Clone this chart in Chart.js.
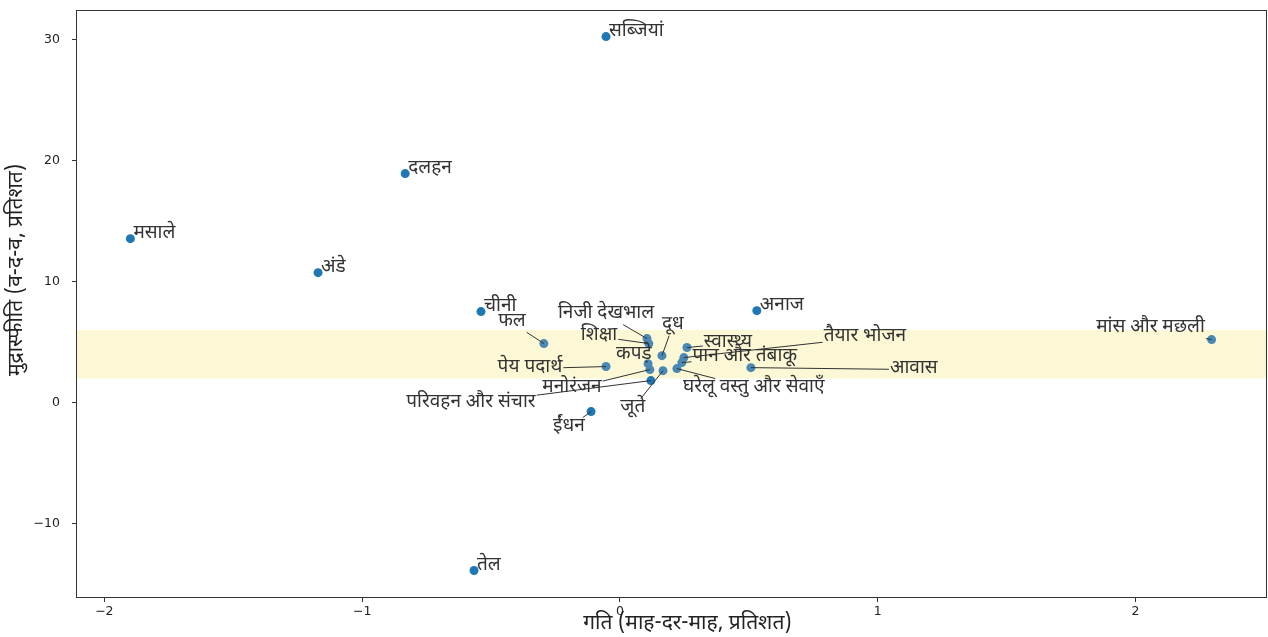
<!DOCTYPE html>
<html>
<head>
<meta charset="utf-8">
<script src="https://cdn.jsdelivr.net/npm/chart.js@4.4.1/dist/chart.umd.min.js"></script>
<style>
  body { margin: 0; background: #fff; }
  #wrap { width: 1268px; height: 637px; }
</style>
</head>
<body>
<div id="wrap"><canvas id="myChart" width="1268" height="637"></canvas></div>
<script>
// categories and values: momentum (m-o-m %) vs inflation (y-o-y %)
const names = ['सब्जियां', 'दलहन', 'मसाले', 'अंडे', 'चीनी', 'अनाज', 'मांस और मछली', 'फल', 'तेल',
  'ईंधन', 'पेय पदार्थ', 'निजी देखभाल', 'शिक्षा', 'कपड़े', 'मनोरंजन', 'परिवहन और संचार', 'जूते',
  'दूध', 'स्वास्थ्य', 'तैयार भोजन', 'पान और तंबाकू', 'घरेलू वस्तु और सेवाएँ', 'आवास'];
const momentum = [-0.054, -0.833, -1.899, -1.171, -0.539, 0.531, 2.295, -0.295, -0.566,
  -0.112, -0.054, 0.105, 0.112, 0.109, 0.116, 0.120, 0.167,
  0.163, 0.260, 0.248, 0.240, 0.221, 0.508];
const inflation = [30.25, 18.93, 13.55, 10.74, 7.52, 7.60, 5.21, 4.88, -13.88,
  -0.74, 2.98, 5.29, 4.88, 3.22, 2.73, 1.82, 2.64,
  3.88, 4.55, 3.72, 3.31, 2.81, 2.89];

// where moved labels sit (data units); null = label right at the point
const labelX = [null, null, null, null, null, null, 2.058, -0.419, null,
  -0.198, -0.349, -0.054, -0.081, 0.054, -0.186, -0.578, 0.050,
  0.205, 0.419, 0.950, 0.484, 0.519, 1.140];
const labelY = [null, null, null, null, null, null, 6.12, 6.61, null,
  -2.07, 2.81, 7.27, 5.45, 3.88, 1.16, -0.08, -0.50,
  6.36, 4.88, 5.37, 3.72, 1.16, 2.73];

// target band 2-6 %
const bandLow = 2;
const bandHigh = 6;

const xTicks = [-2, -1, 0, 1, 2];
const yTicks = [-10, 0, 10, 20, 30];

const devFont = '"Noto Sans Devanagari", "Noto Sans", "Lohit Devanagari", sans-serif';

const points = names.map((n, i) => ({ x: momentum[i], y: inflation[i] }));

const extras = {
  id: 'extras',
  beforeDatasetsDraw(chart) {
    const { ctx, chartArea, scales: { y } } = chart;
    ctx.save();
    ctx.fillStyle = '#fcf8d6';
    const top = y.getPixelForValue(bandHigh);
    const bot = y.getPixelForValue(bandLow);
    ctx.fillRect(chartArea.left, top, chartArea.right - chartArea.left, bot - top);
    ctx.restore();
  },
  afterDatasetsDraw(chart) {
    const { ctx, chartArea, scales: { x, y } } = chart;
    ctx.save();
    ctx.font = '19px ' + devFont;
    ctx.fillStyle = '#333';
    ctx.strokeStyle = '#333';
    ctx.lineWidth = 1;
    names.forEach((n, i) => {
      const px = x.getPixelForValue(momentum[i]);
      const py = y.getPixelForValue(inflation[i]);
      if (labelX[i] === null) {
        ctx.textAlign = 'left';
        ctx.textBaseline = 'alphabetic';
        ctx.fillText(n, px + 3, py - 1);
        return;
      }
      const cx = x.getPixelForValue(labelX[i]);
      const cy = y.getPixelForValue(labelY[i]);
      const w = ctx.measureText(n).width;
      const hw = w / 2 + 1, hh = 10;
      const dx = px - cx, dy = py - cy;
      const t = Math.min(dx ? hw / Math.abs(dx) : Infinity, dy ? hh / Math.abs(dy) : Infinity);
      if (t < 1) {
        ctx.beginPath();
        ctx.moveTo(cx + dx * t, cy + dy * t);
        ctx.lineTo(px, py);
        ctx.stroke();
      }
      ctx.textAlign = 'center';
      ctx.textBaseline = 'middle';
      ctx.fillText(n, cx, cy);
    });

    // frame
    ctx.strokeStyle = '#333';
    ctx.lineWidth = 1;
    ctx.strokeRect(chartArea.left + 0.5, chartArea.top + 0.5,
      chartArea.right - chartArea.left - 1, chartArea.bottom - chartArea.top - 1);

    // axis titles
    ctx.fillStyle = '#222';
    ctx.font = '21px ' + devFont;
    ctx.textAlign = 'center';
    ctx.textBaseline = 'middle';
    ctx.fillText('गति (माह-दर-माह, प्रतिशत)', (chartArea.left + chartArea.right) / 2 + 16, chartArea.bottom + 27);
    ctx.translate(18, (chartArea.top + chartArea.bottom) / 2 - 34);
    ctx.rotate(-Math.PI / 2);
    ctx.fillText('मुद्रास्फीति (व-द-व, प्रतिशत)', 0, 0);
    ctx.restore();
  }
};

new Chart(document.getElementById('myChart'), {
  type: 'scatter',
  data: {
    datasets: [{
      data: points,
      pointRadius: 4.5,
      pointHoverRadius: 4.5,
      borderWidth: 0,
      backgroundColor: points.map(p => (p.y >= bandLow && p.y <= bandHigh) ? '#4a88b5' : '#1f77b4')
    }]
  },
  options: {
    responsive: false,
    animation: false,
    events: [],
    layout: { autoPadding: false, padding: { top: 10, right: 1, left: 0, bottom: 0 } },
    plugins: { legend: { display: false }, tooltip: { enabled: false } },
    scales: {
      x: {
        type: 'linear',
        min: -2.11,
        max: 2.51,
        afterBuildTicks: s => { s.ticks = xTicks.map(v => ({ value: v })); },
        afterFit: s => { s.height = 39; s.paddingLeft = 0; s.paddingRight = 0; },
        grid: { drawOnChartArea: false, tickLength: 4, color: '#333' },
        border: { display: false },
        ticks: {
          color: '#222',
          font: { family: 'DejaVu Sans', size: 12.5 },
          padding: 2,
          maxRotation: 0,
          callback: v => v < 0 ? '\u2212' + Math.abs(v) : String(v)
        }
      },
      y: {
        type: 'linear',
        min: -16.15,
        max: 32.45,
        afterBuildTicks: s => { s.ticks = yTicks.map(v => ({ value: v })); },
        afterFit: s => { s.width = 76; s.paddingTop = 0; s.paddingBottom = 0; },
        grid: { drawOnChartArea: false, tickLength: 4, color: '#333' },
        border: { display: false },
        ticks: {
          color: '#222',
          font: { family: 'DejaVu Sans', size: 12.5 },
          padding: 12,
          callback: v => v < 0 ? '\u2212' + Math.abs(v) : String(v)
        }
      }
    }
  },
  plugins: [extras]
});
</script>
</body>
</html>
